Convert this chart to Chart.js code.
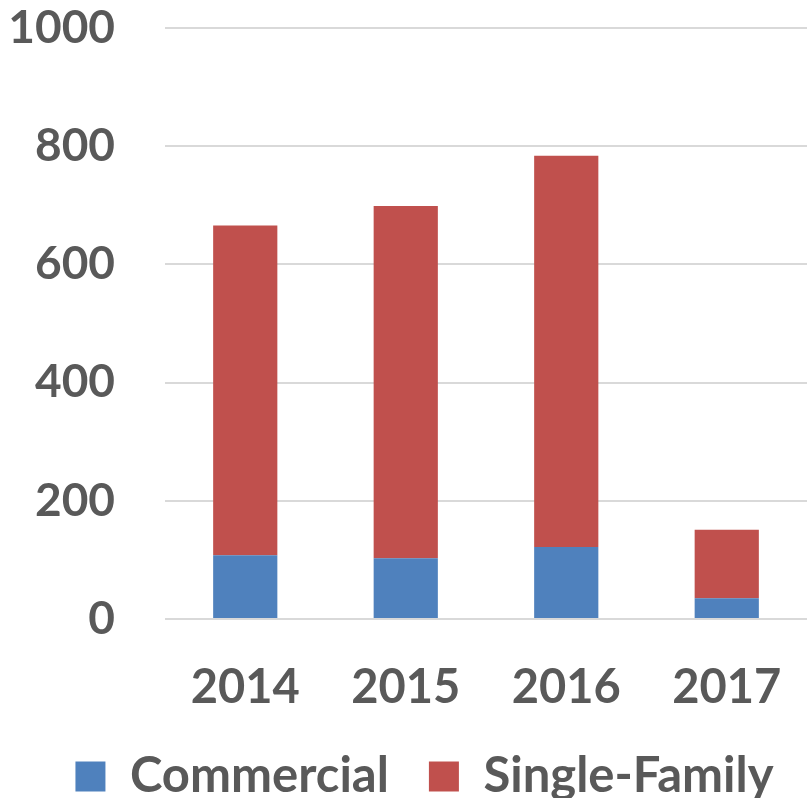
<!DOCTYPE html>
<html>
<head>
<meta charset="utf-8">
<script src="https://cdn.jsdelivr.net/npm/chart.js@4"></script>
<style>
  body { margin: 0; background: #fff; }
  #wrap { width: 807px; height: 798px; }
</style>
</head>
<body>
<div id="wrap"><canvas id="chart" width="807" height="798"></canvas></div>
<script>
// dados
const years = ['2014', '2015', '2016', '2017'];
const commercial = [108, 103, 122, 35];
const singleFamily = [558, 596, 662, 116];
const yTicks = [0, 200, 400, 600, 800, 1000];

const textColor = '#595959';
const fontFace = 'Lato, "Open Sans", sans-serif';

// empurra a legenda um pouco para a direita, como no original
const legendShift = {
  id: 'legendShift',
  afterLayout(chart) {
    chart.legend.left += 16;
    chart.legend.right += 16;
  }
};

const ctx = document.getElementById('chart').getContext('2d');

const chart = new Chart(ctx, {
  type: 'bar',
  data: {
    labels: years,
    datasets: [
      {
        label: 'Commercial',
        data: commercial,
        backgroundColor: '#4F81BD',
        barPercentage: 0.4,
        categoryPercentage: 1
      },
      {
        label: 'Single-Family',
        data: singleFamily,
        backgroundColor: '#C0504D',
        barPercentage: 0.4,
        categoryPercentage: 1
      }
    ]
  },
  plugins: [legendShift],
  options: {
    responsive: false,
    animation: false,
    layout: { padding: { left: 8, right: -2, top: 28, bottom: -13 } },
    plugins: {
      legend: {
        position: 'bottom',
        labels: {
          color: textColor,
          font: { family: fontFace, size: 49, weight: 'bold' },
          boxWidth: 30,
          boxHeight: 30,
          padding: 40
        }
      },
      tooltip: { enabled: false }
    },
    scales: {
      x: {
        stacked: true,
        grid: { display: false },
        border: { display: false },
        afterFit: s => { s.height = 93; s.paddingLeft = 0; s.paddingRight = 0; },
        ticks: {
          color: textColor,
          font: { family: fontFace, size: 47, weight: 'bold' },
          padding: 33
        }
      },
      y: {
        stacked: true,
        min: 0,
        max: 1000,
        afterBuildTicks: axis => { axis.ticks = yTicks.map(v => ({ value: v })); },
        afterFit: s => { s.width = 157; s.paddingTop = 0; s.paddingBottom = 0; },
        grid: { color: '#d9d9d9', lineWidth: 2, drawTicks: false },
        border: { display: false },
        ticks: {
          color: textColor,
          font: { family: fontFace, size: 46, weight: 'bold' },
          padding: 50,
          callback: v => String(v)
        }
      }
    }
  }
});
</script>
</body>
</html>
